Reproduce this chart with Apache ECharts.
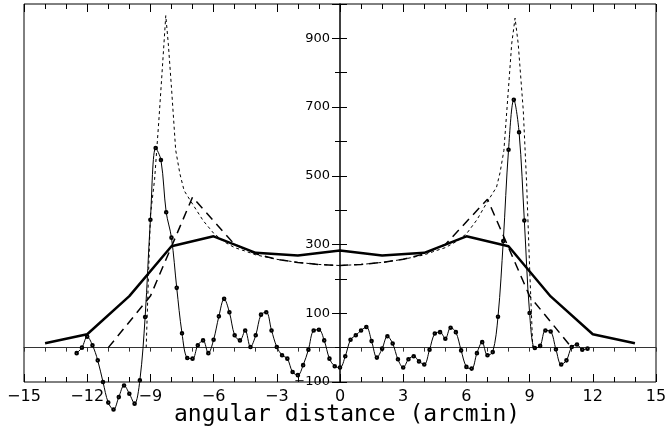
<!DOCTYPE html>
<html>
<head>
<meta charset="utf-8">
<script src="https://cdn.jsdelivr.net/npm/echarts@6/dist/echarts.min.js"></script>
<style>html,body{margin:0;padding:0;background:#fff}#c{width:667px;height:431px}</style>
</head>
<body>
<div id="c"></div>
<script>
// Thick solid profile
const thickX = [-14, -12, -10, -8, -6, -4, -2, 0, 2, 4, 6, 8, 10, 12, 14];
const thickY = [13, 39, 150, 295, 324, 276, 268, 283, 268, 276, 324, 295, 149, 39, 13];

// Long-dashed profile
const dashX = [-11, -9, -7, -5, -4, -3, -2, -1, 0, 1, 2, 3, 4, 5, 7, 9, 11];
const dashY = [0, 150, 438, 300, 273, 257, 248, 242, 239, 242, 248, 257, 273, 300, 432, 150, 0];

// Short-dashed (dotted) profile
const dotX = [-9.2, -9.0, -8.8, -8.6, -8.43, -8.27, -8.15, -8.0, -7.8, -7.6, -7.4, -7.0, -6.5, -6.0, -5.5, -5.0, -4.5, -4.0, -3.0, -2.0, -1.0, 0,
              1.0, 2.0, 3.0, 4.0, 4.5, 5.0, 5.5, 6.0, 6.5, 7.0, 7.43, 7.6, 7.78, 8.0, 8.15, 8.31, 8.46, 8.7, 8.86, 9.0, 9.15];
const dotY = [0, 385, 490, 660, 816, 966, 884, 757, 575, 506, 457, 418, 370, 333, 308, 291, 281, 270, 257, 248, 242, 239,
              242, 248, 257, 270, 281, 291, 308, 331, 372, 425, 467, 510, 574, 757, 884, 959, 884, 690, 477, 234, 0];

// Thin data profile (0.25 arcmin sampling)
const dataX = [-12.5, -12.25, -12, -11.75, -11.5, -11.25, -11, -10.75, -10.5, -10.25, -10, -9.75, -9.5, -9.25, -9, -8.75, -8.5, -8.25, -8, -7.75,
  -7.5, -7.25, -7, -6.75, -6.5, -6.25, -6, -5.75, -5.5, -5.25, -5, -4.75, -4.5, -4.25, -4, -3.75, -3.5, -3.25, -3, -2.75,
  -2.5, -2.25, -2, -1.75, -1.5, -1.25, -1, -0.75, -0.5, -0.25, 0, 0.25, 0.5, 0.75, 1, 1.25, 1.5, 1.75, 2, 2.25,
  2.5, 2.75, 3, 3.25, 3.5, 3.75, 4, 4.25, 4.5, 4.75, 5, 5.25, 5.5, 5.75, 6, 6.25, 6.5, 6.75, 7, 7.25,
  7.5, 7.75, 8, 8.25, 8.5, 8.75, 9, 9.25, 9.5, 9.75, 10, 10.25, 10.5, 10.75, 11, 11.25, 11.5, 11.75];
const dataY = [-16, 0, 32, 7, -37, -100, -160, -180, -144, -110, -134, -163, -95, 89, 372, 581, 546, 394, 320, 174,
  42, -30, -32, 7, 21, -16, 23, 91, 142, 103, 36, 21, 50, 2, 36, 96, 103, 50, 2, -22,
  -32, -71, -80, -51, -6, 50, 52, 21, -32, -54, -58, -25, 23, 36, 50, 60, 19, -29, -3, 33,
  12, -34, -58, -34, -25, -40, -49, -6, 41, 45, 26, 58, 45, -8, -56, -61, -16, 16, -22, -13,
  90, 310, 576, 721, 627, 370, 101, -1, 5, 50, 47, -5, -49, -37, 2, 9, -6, -3];

const xTicks = {min: -15, max: 15, interval: 3};
const yTicks = {min: -100, max: 1000, interval: 200};
const xTitle = 'angular distance (arcmin)';

const pair = (xs, ys) => xs.map((x, i) => [x, ys[i]]);
const fmtNum = v => (v < 0 ? '\u2212' + Math.abs(v) : String(v));
const FONT = 'DejaVu Sans';

const GRID = {left: 24, right: 11, top: 4, bottom: 49};
const W = 667;
// shift of the vertical axis from the grid's left edge to x = 0 (middle of the x range)
const yShift = -((W - GRID.left - GRID.right) / 2);

const chart = echarts.init(document.getElementById('c'), null, {renderer: 'canvas'});
chart.setOption({
  animation: false,
  backgroundColor: '#fff',
  grid: Object.assign({containLabel: false, outerBoundsMode: 'none',
    show: true, borderColor: '#000', borderWidth: 1, backgroundColor: 'transparent'}, GRID),
  graphic: [{
    type: 'text', left: 174, top: 404,
    style: {text: xTitle, fill: '#000', font: '23px "DejaVu Sans Mono"'}
  }],
  xAxis: [
    {
      type: 'value', position: 'bottom', min: xTicks.min, max: xTicks.max, interval: xTicks.interval,
      axisLine: {show: false, onZero: false},
      axisTick: {show: true, inside: true, length: 8, lineStyle: {color: '#000'}},
      minorTick: {show: true, splitNumber: 3, length: 5, lineStyle: {color: '#000'}},
      splitLine: {show: false},
      axisLabel: {show: true, margin: 7, color: '#000', fontFamily: FONT, fontSize: 16, formatter: fmtNum}
    },
    {
      type: 'value', position: 'top', min: xTicks.min, max: xTicks.max, interval: xTicks.interval,
      axisLine: {show: false, onZero: false},
      axisTick: {show: true, inside: true, length: 8, lineStyle: {color: '#000'}},
      minorTick: {show: true, splitNumber: 3, length: 5, lineStyle: {color: '#000'}},
      splitLine: {show: false},
      axisLabel: {show: false}
    },
    {
      type: 'value', position: 'bottom', min: xTicks.min, max: xTicks.max, interval: 1,
      axisLine: {show: true, onZero: true, lineStyle: {color: '#333', width: 1}},
      axisTick: {show: true, inside: false, length: 4, lineStyle: {color: '#333'}},
      splitLine: {show: false},
      axisLabel: {show: false}
    }
  ],
  yAxis: [
    {
      type: 'value', position: 'left', offset: yShift, min: yTicks.min, max: yTicks.max, interval: yTicks.interval,
      axisLine: {show: true, onZero: false, lineStyle: {color: '#000', width: 1.5}},
      axisTick: {show: true, inside: false, length: 8, lineStyle: {color: '#000'}},
      minorTick: {show: true, splitNumber: 2, length: 5, lineStyle: {color: '#000'}},
      splitLine: {show: false},
      axisLabel: {show: true, margin: 10, color: '#000', fontFamily: FONT, fontSize: 13,
        formatter: v => ((v + 100) % 200 === 0 && v <= 900 ? fmtNum(v) : '')}
    },
    {
      type: 'value', position: 'left', offset: yShift, min: yTicks.min, max: yTicks.max, interval: 100,
      axisLine: {show: false, onZero: false},
      axisTick: {show: true, inside: true, length: 7, lineStyle: {color: '#000'}},
      splitLine: {show: false},
      axisLabel: {show: false}
    }
  ],
  series: [
    {
      type: 'line', name: 'thick', data: pair(thickX, thickY), showSymbol: false, symbol: 'none',
      lineStyle: {color: '#000', width: 2.5}, z: 3
    },
    {
      type: 'line', name: 'dashed', data: pair(dashX, dashY), showSymbol: false, symbol: 'none',
      lineStyle: {color: '#000', width: 1.5, type: [9, 6]}, z: 3
    },
    {
      type: 'line', name: 'dotted', data: pair(dotX, dotY), showSymbol: false, symbol: 'none',
      lineStyle: {color: '#000', width: 1, type: [3, 3]}, z: 3
    },
    {
      type: 'line', name: 'data', data: pair(dataX, dataY), smooth: 0.35, clip: false,
      symbol: 'emptyCircle', symbolSize: 2.6, showSymbol: true,
      itemStyle: {color: '#000', borderColor: '#000', borderWidth: 0.6},
      lineStyle: {color: '#000', width: 1}, z: 4
    }
  ]
});
</script>
</body>
</html>
